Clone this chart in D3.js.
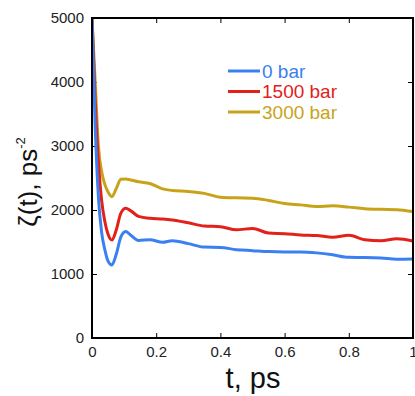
<!DOCTYPE html>
<html>
<head>
<meta charset="utf-8">
<script src="https://cdn.jsdelivr.net/npm/d3@7"></script>
<style>
  body { margin: 0; background: #fff; }
  svg { font-family: 'Liberation Sans', Arial, sans-serif; }
</style>
</head>
<body>
<div id="chart"></div>
<script>
// time axis (ps) and zeta(t) values
const tValues = [0, 0.01, 0.02, 0.03, 0.04, 0.05, 0.062, 0.075, 0.09, 0.105, 0.12, 0.145, 0.18, 0.22, 0.25,
  0.3, 0.35, 0.4, 0.45, 0.5, 0.55, 0.6, 0.65, 0.7, 0.75, 0.8, 0.85, 0.9, 0.95, 1.0];
const bar0 = [5000, 3300, 2200, 1650, 1380, 1200, 1140, 1300, 1580, 1665, 1610, 1525, 1535, 1495, 1520,
  1475, 1420, 1415, 1380, 1365, 1350, 1345, 1345, 1330, 1300, 1260, 1258, 1250, 1230, 1234];
const bar1500 = [5000, 3700, 2750, 2150, 1820, 1620, 1531, 1680, 1950, 2026, 1990, 1900, 1870, 1860, 1845,
  1800, 1750, 1740, 1690, 1712, 1640, 1630, 1610, 1600, 1575, 1605, 1535, 1518, 1550, 1516];
const bar3000 = [5000, 4000, 3000, 2600, 2400, 2280, 2208, 2330, 2480, 2485, 2470, 2440, 2415, 2330, 2305,
  2290, 2260, 2200, 2190, 2185, 2150, 2100, 2080, 2055, 2065, 2045, 2020, 2010, 2005, 1975];
const seriesNames = ['0 bar', '1500 bar', '3000 bar'];
const seriesColors = ['#3a80f0', '#e3211b', '#c8a31a'];
const xTicks = [0, 0.2, 0.4, 0.6, 0.8, 1];
const yTicks = [0, 1000, 2000, 3000, 4000, 5000];

const W = 415, H = 396;
const margin = { top: 18, right: 2, bottom: 58, left: 92 };
const width = W - margin.left - margin.right;
const height = H - margin.top - margin.bottom;

const svg = d3.select('#chart').append('svg')
  .attr('width', W)
  .attr('height', H);

const g = svg.append('g')
  .attr('transform', 'translate(' + margin.left + ',' + margin.top + ')');

const x = d3.scaleLinear().domain([0, 1]).range([0, width]);
const y = d3.scaleLinear().domain([0, 5000]).range([height, 0]);

// axes, ticks pointing inwards
g.append('g')
  .attr('transform', 'translate(0,' + height + ')')
  .call(d3.axisBottom(x).tickValues(xTicks).tickSize(-5).tickPadding(8)
    .tickFormat(d => d === 0 || d === 1 ? d3.format('d')(d) : d3.format('.1f')(d)));
g.append('g')
  .call(d3.axisTop(x).tickValues(xTicks).tickSize(-5).tickFormat(''));
g.append('g')
  .call(d3.axisLeft(y).tickValues(yTicks).tickSize(-5).tickPadding(8).tickFormat(d3.format('d')));
g.append('g')
  .attr('transform', 'translate(' + width + ',0)')
  .call(d3.axisRight(y).tickValues(yTicks).tickSize(-5).tickFormat(''));

g.selectAll('.domain').remove();
g.selectAll('.tick line').attr('stroke', '#000').attr('stroke-width', 1);
g.selectAll('.tick text').attr('font-size', 15).attr('fill', '#222')
  .style('font-family', "'Liberation Sans', Arial, sans-serif");

g.append('defs').append('clipPath').attr('id', 'clip')
  .append('rect').attr('width', width).attr('height', height);

const line = d3.line()
  .x(d => x(d[0]))
  .y(d => y(d[1]))
  .curve(d3.curveMonotoneX);

const allSeries = [bar0, bar1500, bar3000];
// draw higher pressures first so the blue one stays on top as in the figure
[2, 1, 0].forEach(i => {
  g.append('path')
    .datum(tValues.map((t, k) => [t, allSeries[i][k]]))
    .attr('clip-path', 'url(#clip)')
    .attr('fill', 'none')
    .attr('stroke', seriesColors[i])
    .attr('stroke-width', 3)
    .attr('stroke-linejoin', 'round')
    .attr('d', line);
});

// frame
g.append('rect')
  .attr('width', width)
  .attr('height', height)
  .attr('fill', 'none')
  .attr('stroke', '#000')
  .attr('stroke-width', 2);

// legend
const legend = svg.append('g').attr('transform', 'translate(228,71)');
seriesNames.forEach((name, i) => {
  const row = legend.append('g').attr('transform', 'translate(0,' + (i * 20.5) + ')');
  row.append('line')
    .attr('x1', 0).attr('x2', 32)
    .attr('stroke', seriesColors[i])
    .attr('stroke-width', 3);
  row.append('text')
    .attr('x', 34)
    .attr('dy', '0.36em')
    .attr('font-size', 19)
    .attr('fill', seriesColors[i])
    .text(name);
});

// axis titles
svg.append('text')
  .attr('x', 253)
  .attr('y', 388)
  .attr('text-anchor', 'middle')
  .attr('font-size', 29)
  .attr('fill', '#111')
  .text('t, ps');

const yLabel = svg.append('text')
  .attr('transform', 'translate(37,182) rotate(-90)')
  .attr('text-anchor', 'middle')
  .attr('font-size', 26)
  .attr('fill', '#111');
yLabel.append('tspan').text('ζ(t), ps');
yLabel.append('tspan')
  .attr('font-size', 13)
  .attr('dy', '-12')
  .text('-2');
</script>
</body>
</html>
